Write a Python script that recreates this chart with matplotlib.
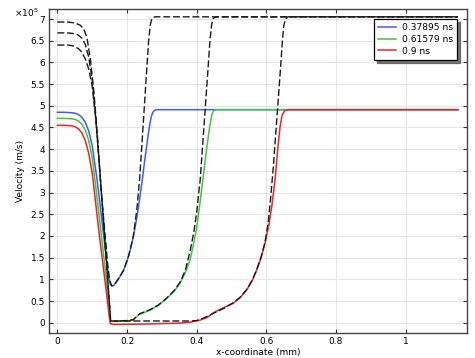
import matplotlib
matplotlib.use("Agg")
import matplotlib.pyplot as plt
import numpy as np

# ---- data (velocity in units of 1e5 m/s, x in mm) ----
labels = ["0.37895 ns", "0.61579 ns", "0.9 ns"]

blue_x = [0, 0.02, 0.04, 0.05, 0.06, 0.07, 0.08, 0.09, 0.10, 0.113, 0.12, 0.13, 0.14, 0.148,
          0.152, 0.156, 0.162, 0.17, 0.18, 0.19, 0.20, 0.21, 0.218, 0.228, 0.237, 0.244,
          0.25, 0.256, 0.261, 0.266, 0.27, 0.274, 0.278, 0.284, 0.30, 0.5, 0.8, 1.15]
blue_y = [4.85, 4.85, 4.84, 4.83, 4.80, 4.74, 4.62, 4.42, 4.08, 3.35, 2.9, 2.2, 1.52, 1.0,
          0.88, 0.85, 0.86, 0.95, 1.07, 1.21, 1.42, 1.7, 1.98, 2.42, 2.9, 3.3,
          3.7, 4.05, 4.35, 4.6, 4.76, 4.85, 4.89, 4.91, 4.91, 4.91, 4.91, 4.91]

green_x = [0, 0.02, 0.04, 0.05, 0.06, 0.07, 0.08, 0.09, 0.10, 0.11, 0.12, 0.13, 0.14, 0.148,
           0.152, 0.17, 0.20, 0.218, 0.225, 0.237, 0.25, 0.266, 0.29, 0.314, 0.335, 0.352,
           0.367, 0.381, 0.39, 0.40, 0.41, 0.42, 0.43, 0.437, 0.443, 0.448, 0.455, 0.6, 0.9, 1.15]
green_y = [4.71, 4.71, 4.70, 4.69, 4.65, 4.58, 4.44, 4.2, 3.8, 3.15, 2.45, 1.75, 1.05, 0.35,
           0.03, 0.03, 0.04, 0.06, 0.12, 0.2, 0.24, 0.29, 0.4, 0.56, 0.72, 0.91,
           1.15, 1.45, 1.78, 2.2, 2.8, 3.45, 4.1, 4.5, 4.78, 4.88, 4.91, 4.91, 4.91, 4.91]

red_x = [0, 0.02, 0.04, 0.05, 0.06, 0.07, 0.08, 0.09, 0.10, 0.11, 0.12, 0.13, 0.14, 0.148,
         0.152, 0.16, 0.25, 0.35, 0.38, 0.41, 0.43, 0.448, 0.47, 0.505, 0.525, 0.543, 0.56,
         0.572, 0.585, 0.596, 0.607, 0.615, 0.625, 0.632, 0.639, 0.645, 0.652, 0.662, 0.8, 1.15]
red_y = [4.55, 4.55, 4.54, 4.52, 4.47, 4.38, 4.2, 3.9, 3.45, 2.75, 2.05, 1.4, 0.75, 0.2,
         -0.02, -0.04, -0.03, -0.01, 0.01, 0.06, 0.12, 0.23, 0.32, 0.45, 0.58, 0.75, 0.98,
         1.21, 1.5, 1.83, 2.25, 2.65, 3.3, 3.95, 4.5, 4.78, 4.88, 4.91, 4.91, 4.91]

dash1_x = [0, 0.03, 0.05, 0.065, 0.075, 0.085, 0.095, 0.105, 0.115, 0.125, 0.135, 0.145,
           0.150, 0.156, 0.162, 0.17, 0.18, 0.19, 0.205, 0.218, 0.228, 0.236, 0.245, 0.255,
           0.262, 0.267, 0.272, 0.28, 0.5, 0.8, 1.15]
dash1_y = [6.93, 6.93, 6.91, 6.86, 6.78, 6.57, 6.05, 5.3, 4.3, 3.1, 2.2, 1.3,
           0.98, 0.85, 0.86, 0.95, 1.07, 1.21, 1.55, 2.0, 2.6, 3.3, 4.4, 5.65,
           6.5, 6.88, 7.02, 7.05, 7.05, 7.05, 7.05]

dash2_x = [0, 0.03, 0.05, 0.06, 0.07, 0.08, 0.09, 0.10, 0.11, 0.12, 0.13, 0.14, 0.148,
           0.153, 0.17, 0.20, 0.218, 0.225, 0.237, 0.25, 0.266, 0.29, 0.314, 0.335, 0.352,
           0.367, 0.381, 0.392, 0.40, 0.41, 0.418, 0.425, 0.432, 0.438, 0.443, 0.448, 0.455,
           0.6, 0.9, 1.15]
dash2_y = [6.68, 6.68, 6.66, 6.63, 6.56, 6.42, 6.12, 5.6, 4.75, 3.7, 2.6, 1.5, 0.6,
           0.04, 0.04, 0.05, 0.07, 0.13, 0.21, 0.25, 0.3, 0.41, 0.57, 0.74, 0.93,
           1.2, 1.65, 2.1, 2.55, 3.3, 4.2, 5.0, 5.8, 6.5, 6.88, 7.02, 7.05,
           7.05, 7.05, 7.05]

dash3_x = [0, 0.03, 0.045, 0.06, 0.07, 0.08, 0.09, 0.10, 0.11, 0.12, 0.13, 0.14, 0.148,
           0.153, 0.2, 0.3, 0.38, 0.40, 0.42, 0.438, 0.457, 0.48, 0.505, 0.525, 0.543, 0.56,
           0.572, 0.585, 0.596, 0.605, 0.612, 0.62, 0.63, 0.64, 0.646, 0.65, 0.655, 0.662,
           0.8, 1.15]
dash3_y = [6.40, 6.40, 6.38, 6.32, 6.24, 6.08, 5.85, 5.45, 4.7, 3.7, 2.6, 1.5, 0.6,
           0.04, 0.04, 0.04, 0.04, 0.05, 0.11, 0.18, 0.25, 0.34, 0.46, 0.59, 0.76, 0.99,
           1.22, 1.52, 1.85, 2.3, 2.85, 3.6, 4.7, 5.8, 6.5, 6.85, 7.0, 7.05,
           7.05, 7.05]

xticks = [0, 0.2, 0.4, 0.6, 0.8, 1.0]
xtick_labels = ["0", "0.2", "0.4", "0.6", "0.8", "1"]
yticks = [0, 0.5, 1, 1.5, 2, 2.5, 3, 3.5, 4, 4.5, 5, 5.5, 6, 6.5, 7]
ytick_labels = ["0", "0.5", "1", "1.5", "2", "2.5", "3", "3.5", "4", "4.5", "5", "5.5", "6", "6.5", "7"]

# ---- figure ----
fig = plt.figure(figsize=(4.75, 3.58), dpi=100)
ax = fig.add_axes([0.1032, 0.0698, 0.88, 0.905])

colors = ["#3d5cff", "#3cc83c", "#e8262a"]
for xs, ys, c, lab in [(blue_x, blue_y, colors[0], labels[0]),
                       (green_x, green_y, colors[1], labels[1]),
                       (red_x, red_y, colors[2], labels[2])]:
    ax.plot(xs, ys, color=c, lw=1.1, label=lab, zorder=3)

for xs, ys in [(dash1_x, dash1_y), (dash2_x, dash2_y), (dash3_x, dash3_y)]:
    ax.plot(xs, ys, color="#1a1a1a", lw=1.0, dashes=(5, 2), zorder=4)

ax.set_xlim(-0.024, 1.176)
ax.set_ylim(-0.237, 7.23)
ax.set_xticks(xticks)
ax.set_xticklabels(xtick_labels)
ax.set_yticks(yticks)
ax.set_yticklabels(ytick_labels)
ax.tick_params(direction="in", length=3, width=0.8, labelsize=6.5, top=True, right=True,
               colors="#333333", labelcolor="black", pad=3)
ax.grid(True, color="#e6e6e6", lw=0.8, zorder=0)
ax.set_axisbelow(True)
for s in ax.spines.values():
    s.set_color("#444444")
    s.set_linewidth(1.0)

ax.set_xlabel("x-coordinate (mm)", fontsize=6.5, labelpad=1)
ax.set_ylabel("Velocity (m/s)", fontsize=6.5, labelpad=4)
fig.text(14 / 475, 1 - 13 / 358, r"$\times10^5$", fontsize=6.5, ha="left", va="center")

leg = ax.legend(loc="upper right", bbox_to_anchor=(0.976, 0.969), borderaxespad=0,
                fontsize=6.6, frameon=True, fancybox=False,
                shadow={"color": "#555555", "alpha": 0.8},
                handlelength=2.0, handletextpad=0.6, borderpad=0.45, labelspacing=0.3)
leg.get_frame().set_edgecolor("black")
leg.get_frame().set_linewidth(0.9)

fig.savefig("out.png", dpi=100)
